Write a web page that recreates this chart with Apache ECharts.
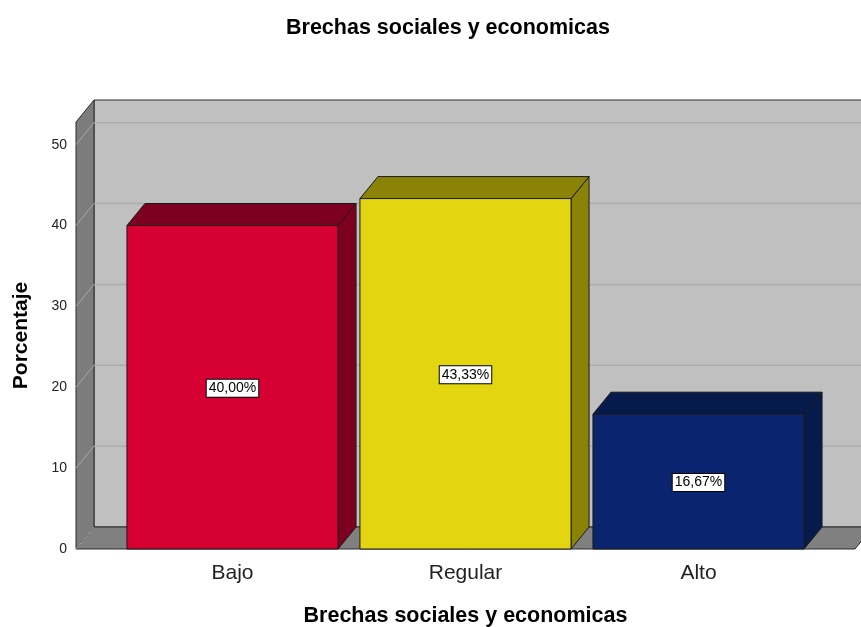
<!DOCTYPE html>
<html>
<head>
<meta charset="utf-8">
<script src="https://cdn.jsdelivr.net/npm/echarts@6/dist/echarts.min.js"></script>
<style>
  html, body { margin: 0; padding: 0; background: #fff; }
  #bar_chart01 { width: 861px; height: 627px; }
</style>
</head>
<body>
<div id="bar_chart01"></div>
<script>
const categories = ['Bajo', 'Regular', 'Alto']
const percentages = [40.00, 43.33, 16.67]
const yTicks = [0, 10, 20, 30, 40, 50]
const frontColors = ['#d70032', '#e3d611', '#0a2470']
const darkColors = ['#7e0020', '#8b8208', '#061a4b']

const depth_x = 18
const depth_y = -22
const frame_pad = 40
const font = '"Liberation Sans", Arial, sans-serif'

let bar_chart01 = echarts.init(document.getElementById('bar_chart01'))

function fmt_pct(v) {
    return v.toFixed(2).replace('.', ',') + '%'
}

// walls, floor and grid lines of the 3D box
function render_frame(params, api) {
    const cs = params.coordSys
    const L = cs.x - frame_pad
    const R = cs.x + cs.width + frame_pad
    const top = cs.y
    const bottom = api.coord([0, 0])[1]
    const edge = {stroke: '#2b2b2b', lineWidth: 1}
    let children = []

    children.push({
        type: 'polygon',
        shape: {points: [[L + depth_x, top + depth_y], [R + depth_x, top + depth_y], [R + depth_x, bottom + depth_y], [L + depth_x, bottom + depth_y]]},
        style: Object.assign({fill: '#c0c0c0'}, edge)
    })
    children.push({
        type: 'polygon',
        shape: {points: [[L, top], [L + depth_x, top + depth_y], [L + depth_x, bottom + depth_y], [L, bottom]]},
        style: Object.assign({fill: '#7c7c7c'}, edge)
    })
    children.push({
        type: 'polygon',
        shape: {points: [[L, bottom], [R, bottom], [R + depth_x, bottom + depth_y], [L + depth_x, bottom + depth_y]]},
        style: Object.assign({fill: '#808080'}, edge)
    })
    yTicks.forEach((t) => {
        const y = api.coord([0, t])[1]
        children.push({
            type: 'line',
            shape: {x1: L, y1: y, x2: L + depth_x, y2: y + depth_y},
            style: {stroke: '#a8a8a8', lineWidth: 1}
        })
        if (t > 0) {
            children.push({
                type: 'line',
                shape: {x1: L + depth_x, y1: y + depth_y, x2: R + depth_x, y2: y + depth_y},
                style: {stroke: '#acacac', lineWidth: 1.5}
            })
        }
    })
    return {type: 'group', children: children}
}

function render_bar(params, api) {
    const idx = api.value(0)
    const val = api.value(1)
    const topPt = api.coord([idx, val])
    const basePt = api.coord([idx, 0])
    const w = api.size([1, 0])[0] * 0.906
    const x0 = topPt[0] - w / 2
    const x1 = topPt[0] + w / 2
    const yt = topPt[1]
    const yb = basePt[1]
    const edge = {stroke: '#1a1a1a', lineWidth: 1}
    const mid = api.coord([idx, val / 2])

    return {
        type: 'group',
        children: [
            {
                type: 'polygon',
                shape: {points: [[x1, yt], [x1 + depth_x, yt + depth_y], [x1 + depth_x, yb + depth_y], [x1, yb]]},
                style: Object.assign({fill: darkColors[idx]}, edge)
            },
            {
                type: 'polygon',
                shape: {points: [[x0, yt], [x0 + depth_x, yt + depth_y], [x1 + depth_x, yt + depth_y], [x1, yt]]},
                style: Object.assign({fill: darkColors[idx]}, edge)
            },
            {
                type: 'rect',
                shape: {x: x0, y: yt, width: w, height: yb - yt},
                style: Object.assign({fill: frontColors[idx]}, edge)
            },
            {
                type: 'text',
                x: mid[0],
                y: mid[1] + 1,
                style: {
                    text: fmt_pct(val),
                    align: 'center',
                    verticalAlign: 'middle',
                    font: '14px ' + font,
                    fill: '#000',
                    backgroundColor: '#fff',
                    borderColor: '#000',
                    borderWidth: 1,
                    padding: [2, 2, 1, 2]
                }
            }
        ]
    }
}

let bar_chart01_option = {
    animation: false,
    title: {
        text: 'Brechas sociales y economicas',
        left: 281,
        top: 12,
        textStyle: {fontFamily: font, fontSize: 21.5, fontWeight: 'bold', color: '#000'}
    },
    grid: {left: 116, right: 46, top: 122, bottom: 78, outerBoundsMode: 'none', containLabel: false},
    xAxis: {
        type: 'category',
        data: categories,
        name: 'Brechas sociales y economicas',
        nameLocation: 'middle',
        nameGap: 56,
        nameTextStyle: {fontFamily: font, fontSize: 21.5, fontWeight: 'bold', color: '#000'},
        axisLine: {show: false},
        axisTick: {show: false},
        axisLabel: {margin: 14, fontFamily: font, fontSize: 21, color: '#222'}
    },
    yAxis: {
        type: 'value',
        min: 0,
        max: 52.8,
        interval: 10,
        name: 'Porcentaje',
        nameLocation: 'middle',
        nameGap: 84,
        nameTextStyle: {fontFamily: font, fontSize: 21, fontWeight: 'bold', color: '#000'},
        axisLine: {show: false},
        axisTick: {show: false},
        splitLine: {show: false},
        axisLabel: {
            margin: 49,
            fontFamily: font,
            fontSize: 14,
            color: '#222',
            formatter: function (v) {
                return yTicks.indexOf(v) >= 0 ? String(v) : ''
            }
        }
    },
    series: [
        {
            type: 'custom',
            renderItem: render_frame,
            data: [[0, 0]],
            silent: true,
            z: 1
        },
        {
            type: 'custom',
            renderItem: render_bar,
            data: percentages.map((v, i) => [i, v]),
            z: 2
        }
    ]
};

bar_chart01.setOption(bar_chart01_option);
</script>
</body>
</html>
